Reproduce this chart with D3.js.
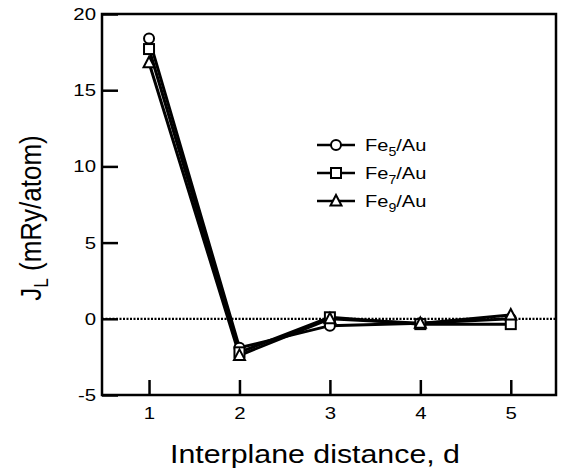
<!DOCTYPE html>
<html>
<head>
<meta charset="utf-8">
<script src="https://cdn.jsdelivr.net/npm/d3@7"></script>
<style>
  body { margin: 0; background: #fff; }
  text { font-family: "Liberation Sans", Arial, sans-serif; fill: #000; }
</style>
</head>
<body>
<div id="chart"></div>
<script>
var svgWidth = 563;
var svgHeight = 469;

// data
var distances = [1, 2, 3, 4, 5];
var fe5 = [18.4, -1.9, -0.45, -0.3, 0.0];
var fe7 = [17.7, -2.2, 0.1, -0.35, -0.35];
var fe9 = [16.8, -2.4, 0.0, -0.3, 0.25];
var seriesSubs = ["5", "7", "9"];
var markers = ["circle", "square", "triangle"];
var yTicks = [-5, 0, 5, 10, 15, 20];
var xTicks = [1, 2, 3, 4, 5];

var margin = {top: 14, right: 7, bottom: 74, left: 102};
var width = svgWidth - margin.left - margin.right;
var height = svgHeight - margin.top - margin.bottom;

var svg = d3.select("#chart")
  .append("svg")
    .attr("width", svgWidth)
    .attr("height", svgHeight);

var chartGroup = svg.append("g")
  .attr("transform", `translate(${margin.left}, ${margin.top})`);

var xScale = d3.scaleLinear().domain([0.48, 5.5]).range([0, width]);
var yScale = d3.scaleLinear().domain([-5, 20]).range([height, 0]);

// zero reference line (dotted)
chartGroup.append("line")
  .attr("x1", 0).attr("x2", width)
  .attr("y1", yScale(0)).attr("y2", yScale(0))
  .attr("stroke", "#000")
  .attr("stroke-width", 2.2)
  .attr("stroke-dasharray", "2,1.5");

// axes with inward ticks, plain hyphen for minus
var fmt = function(d) { return String(d); };
var xAxis = d3.axisBottom(xScale).tickValues(xTicks).tickSize(-15).tickPadding(12).tickFormat(fmt);
var yAxis = d3.axisLeft(yScale).tickValues(yTicks).tickSize(-16).tickPadding(5).tickFormat(fmt);

var gx = chartGroup.append("g")
  .attr("transform", `translate(0, ${height})`)
  .call(xAxis);
var gy = chartGroup.append("g").call(yAxis);

[gx, gy].forEach(function(g) {
  g.select(".domain").remove();
  g.selectAll(".tick line").attr("stroke", "#000").attr("stroke-width", 2.5);
  g.selectAll(".tick text")
    .style("font-size", "17px")
    .attr("fill", "#000")
    .attr("transform", "scale(1.2,1)");
});

// frame
chartGroup.append("rect")
  .attr("width", width).attr("height", height)
  .attr("fill", "none")
  .attr("stroke", "#000")
  .attr("stroke-width", 2.5);

var allSeries = [fe5, fe7, fe9];

var line = d3.line()
  .x(function(d, i) { return xScale(distances[i]); })
  .y(function(d) { return yScale(d); });

allSeries.forEach(function(vals) {
  chartGroup.append("path")
    .datum(vals)
    .attr("d", line)
    .attr("fill", "none")
    .attr("stroke", "#000")
    .attr("stroke-width", 3);
});

function drawMarker(g, type, x, y) {
  if (type === "circle") {
    g.append("circle").attr("cx", x).attr("cy", y).attr("r", 5);
  } else if (type === "square") {
    g.append("rect").attr("x", x - 5).attr("y", y - 5).attr("width", 10).attr("height", 10);
  } else {
    g.append("path").attr("d", `M${x},${y - 6}L${x + 5.5},${y + 4.5}L${x - 5.5},${y + 4.5}Z`);
  }
}

allSeries.forEach(function(vals, s) {
  var mg = chartGroup.append("g")
    .attr("fill", "#fff")
    .attr("stroke", "#000")
    .attr("stroke-width", 2);
  vals.forEach(function(v, i) {
    drawMarker(mg, markers[s], xScale(distances[i]), yScale(v));
  });
});

// legend
var legend = svg.append("g");
seriesSubs.forEach(function(sub, s) {
  var ly = 145 + s * 28;
  legend.append("line")
    .attr("x1", 317).attr("x2", 355)
    .attr("y1", ly).attr("y2", ly)
    .attr("stroke", "#000").attr("stroke-width", 2.5);
  var mg = legend.append("g").attr("fill", "#fff").attr("stroke", "#000").attr("stroke-width", 2);
  drawMarker(mg, markers[s], 336, ly);
  var t = legend.append("text")
    .attr("transform", `translate(365, ${ly + 6}) scale(1.18,1)`)
    .style("font-size", "17px");
  t.append("tspan").text("Fe");
  t.append("tspan").attr("dy", 5).style("font-size", "12px").text(sub);
  t.append("tspan").attr("dy", -5).text("/Au");
});

// axis titles
svg.append("text")
  .attr("x", 170).attr("y", 463)
  .attr("textLength", 290)
  .attr("lengthAdjust", "spacingAndGlyphs")
  .style("font-size", "25px")
  .text("Interplane distance, d");

var yl = svg.append("text")
  .attr("transform", "translate(41, 218) scale(1.15,1) rotate(-90)")
  .attr("text-anchor", "middle")
  .style("font-size", "26px");
yl.append("tspan").text("J");
yl.append("tspan").attr("dy", 6).style("font-size", "17px").text("L");
yl.append("tspan").attr("dy", -6).text(" (mRy/atom)");
</script>
</body>
</html>
